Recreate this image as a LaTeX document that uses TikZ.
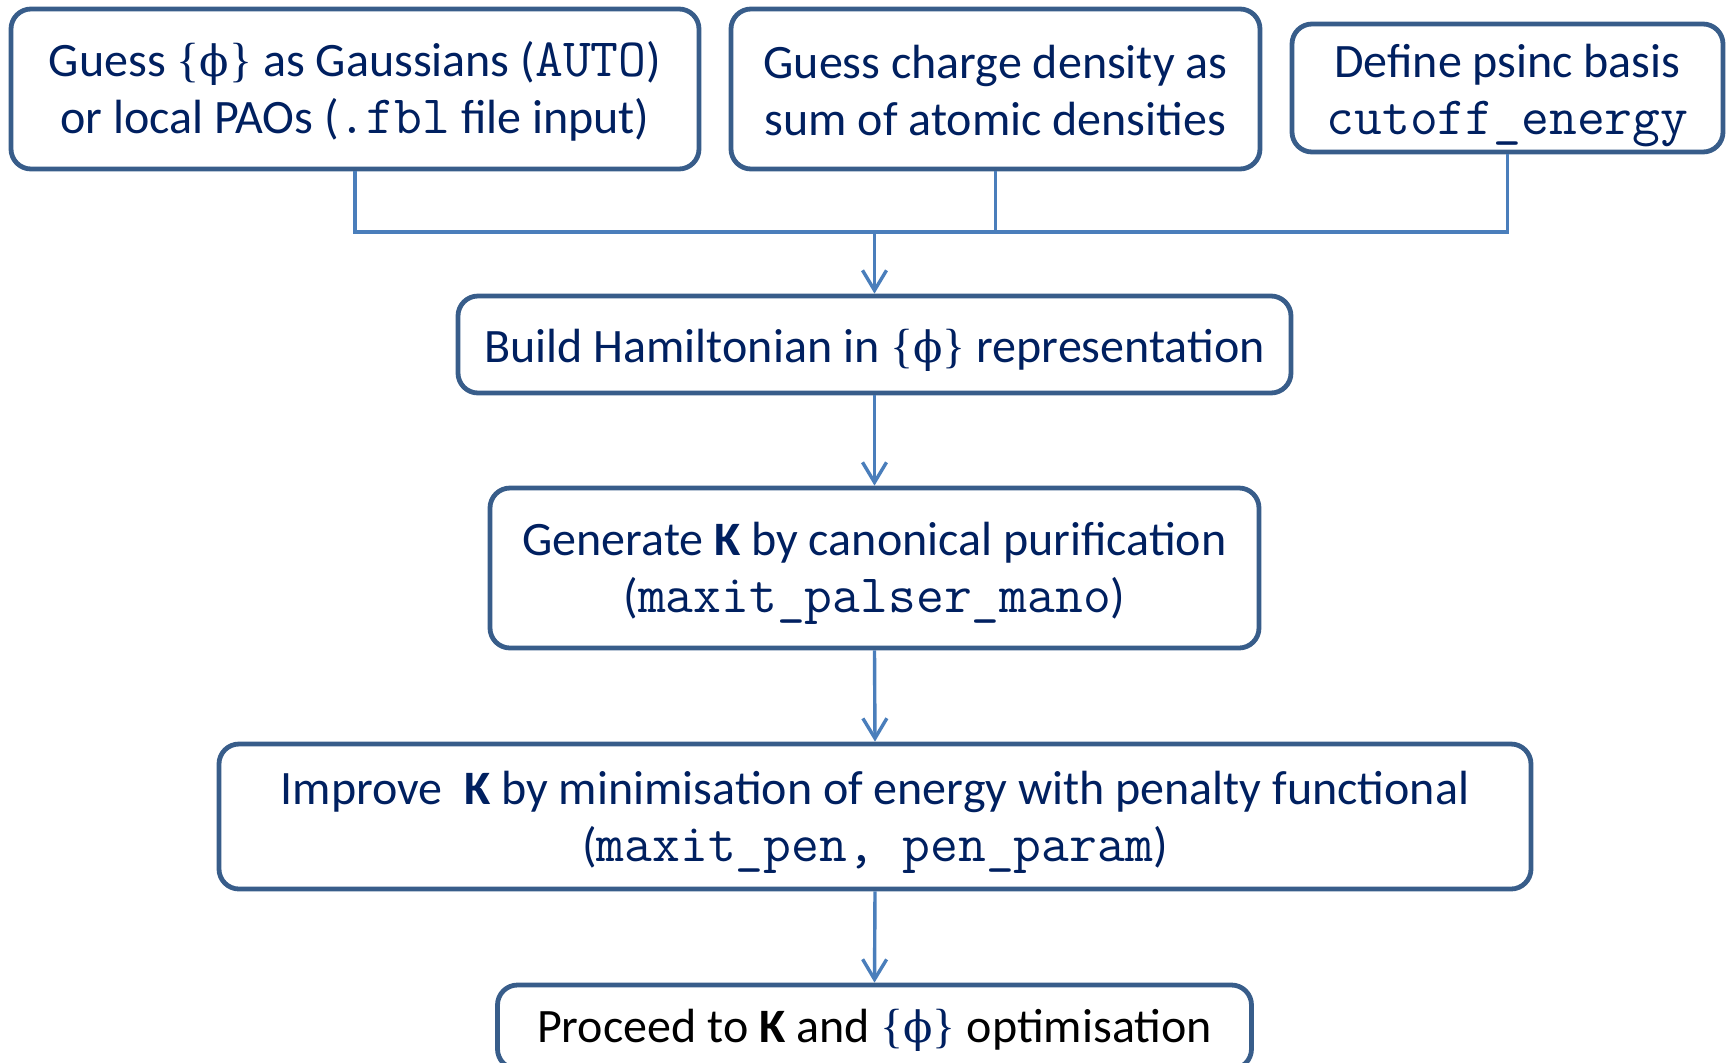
\documentclass[tikz,border=0pt]{standalone}
\usepackage{fontspec}
\setmainfont{Carlito}
\newfontfamily\symbfont{Liberation Serif}
\newfontfamily\phifont[Scale=0.9]{DejaVu Serif}
\usetikzlibrary{arrows.meta}
\definecolor{txtblue}{RGB}{0,32,96}
\definecolor{boxline}{RGB}{56,93,138}
\definecolor{connblue}{RGB}{74,126,187}
\newcommand\mymono[1]{{\fontsize{27}{28.5}\selectfont\ttfamily #1}}
\newcommand\phiset{{\symbfont\{{\phifont ϕ}\}}}
\begin{document}
\begin{tikzpicture}[x=0.5pt,y=-0.5pt,
  flowbox/.style={draw=boxline, line width=2.4pt, rounded corners=10pt, fill=white,
    inner sep=0pt},
  boxtext/.style={inner sep=0pt, align=center, text=txtblue,
    font=\fontsize{24}{28.5}\selectfont},
  conn/.style={draw=connblue, line width=1.7pt},
  arr/.style={conn, -{Straight Barb[length=10pt,width=12pt,line width=1.7pt]}}]
\useasboundingbox (0,0) rectangle (1731,1062);
\clip (0,0) rectangle (1731,1062);
\node[flowbox, minimum width=344pt, minimum height=80pt] (b1) at (355,89) {};
\node[flowbox, minimum width=264.5pt, minimum height=80pt] (b2) at (995.5,89) {};
\node[flowbox, minimum width=215.5pt, minimum height=64pt] (b3) at (1507.5,88) {};
\node[flowbox, minimum width=416.5pt, minimum height=48.5pt] (b4) at (874.5,344.5) {};
\node[flowbox, minimum width=384.5pt, minimum height=80pt] (b5) at (874.5,568) {};
\node[flowbox, minimum width=656pt, minimum height=72.5pt] (b6) at (875,816.5) {};
\node[flowbox, minimum width=377pt, minimum height=42pt] (b7) at (874.5,1027) {};
\node[boxtext] (t1) at ([yshift=-1.2pt]b1.center)
  {Guess \phiset\ as Gaussians (\mymono{AUTO})\\or local PAOs (\mymono{.fbl} file input)};
\node[boxtext] (t2) at ([yshift=-1pt]b2.center)
  {Guess charge density as\\sum of atomic densities};
\node[boxtext] (t3) at ([yshift=-4pt]b3.center)
  {Define psinc basis\\\mymono{cutoff\_energy}};
\node[boxtext] (t4) at ([yshift=-2.7pt]b4.center)
  {Build Hamiltonian in \phiset\ representation};
\node[boxtext] (t5) at ([yshift=-2.7pt]b5.center)
  {Generate \textbf{K} by canonical purification\\(\mymono{maxit\_palser\_mano})};
\node[boxtext] (t6) at ([yshift=-2.7pt]b6.center)
  {Improve\ \ \textbf{K} by minimisation of energy with penalty functional\\(\mymono{maxit\_pen, pen\_param})};
\node[boxtext, text=black] (t7) at ([yshift=-1.7pt]b7.center)
  {Proceed to \textbf{K} and \textcolor{txtblue}{\phiset} optimisation};
\coordinate (j) at (874.5,232);
\draw[conn] (b1.south) |- (j);
\draw[conn] (b3.south) |- (j);
\draw[conn] (b2.south) -- (b2.south |- j);
\draw[arr] (j) -- (b4.north);
\draw[arr] (b4.south) -- (b5.north);
\draw[arr] (b5.south) -- (b6.north);
\draw[arr] (b6.south) -- (b7.north);
\end{tikzpicture}
\end{document}
